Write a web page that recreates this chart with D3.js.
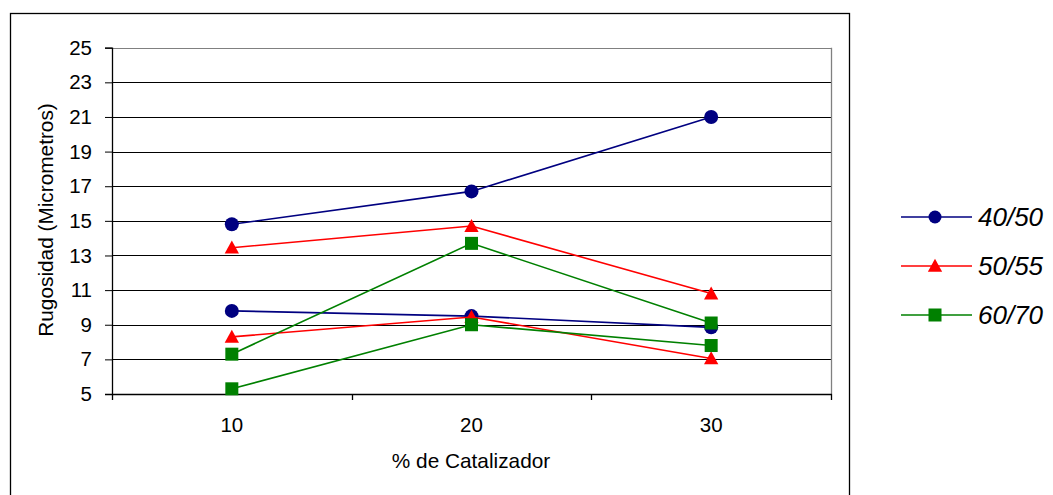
<!DOCTYPE html>
<html>
<head>
<meta charset="utf-8">
<script src="https://cdn.jsdelivr.net/npm/d3@7"></script>
<style>
  html, body { margin: 0; padding: 0; background: #fff; }
  svg { display: block; font-family: "Liberation Sans", Arial, sans-serif; }
</style>
</head>
<body>
<svg id="chart" width="1053" height="495"></svg>
<script>
// Catalyst percentage categories
const categories = [10, 20, 30];
// Y axis ticks
const yTicks = [5, 7, 9, 11, 13, 15, 17, 19, 21, 23, 25];

// Roughness (micrometres) per resin grade, two measured curves each
const s4050High = [14.8, 16.7, 21.0];
const s4050Low  = [9.8, 9.5, 8.85];
const s5055High = [13.45, 14.7, 10.8];
const s5055Low  = [8.3, 9.45, 7.05];
const s6070High = [7.3, 13.7, 9.1];
const s6070Low  = [5.3, 9.0, 7.8];

const legendLabels = ["40/50", "50/55", "60/70"];

const groups = [
  { name: legendLabels[0], color: "#000080", shape: "circle",   lines: [s4050High, s4050Low] },
  { name: legendLabels[1], color: "#FF0000", shape: "triangle", lines: [s5055High, s5055Low] },
  { name: legendLabels[2], color: "#008000", shape: "square",   lines: [s6070High, s6070Low] }
];

const svg = d3.select("#chart");

const plot = { left: 112, right: 831, top: 47.7, bottom: 394 };

const x = d3.scaleBand().domain(categories).range([plot.left, plot.right]);
const y = d3.scaleLinear().domain([5, 25]).range([plot.bottom, plot.top]);

// Outer chart frame
svg.append("rect")
  .attr("x", 10.5).attr("y", 13.5)
  .attr("width", 839).attr("height", 490)
  .attr("fill", "none").attr("stroke", "#000").attr("stroke-width", 1.3);

// Horizontal gridlines
svg.append("g")
  .selectAll("line")
  .data(yTicks.filter(t => t !== 5))
  .join("line")
  .attr("x1", plot.left).attr("x2", plot.right)
  .attr("y1", d => Math.round(y(d)) + 0.5).attr("y2", d => Math.round(y(d)) + 0.5)
  .attr("stroke", d => d === 25 ? "#808080" : "#000").attr("stroke-width", 1);

// Plot-area right border
svg.append("line")
  .attr("x1", plot.right + 0.5).attr("x2", plot.right + 0.5)
  .attr("y1", plot.top).attr("y2", plot.bottom)
  .attr("stroke", "#808080").attr("stroke-width", 1.3);

// Y axis
const yAxis = d3.axisLeft(y).tickValues(yTicks).tickSize(7).tickPadding(13);
const yg = svg.append("g")
  .attr("transform", `translate(${plot.left},0)`)
  .call(yAxis);
yg.attr("font-size", null).attr("font-family", null);
yg.select(".domain").attr("stroke", "#000").attr("stroke-width", 1.3);
yg.selectAll(".tick line").attr("stroke", "#000");
yg.selectAll(".tick text")
  .attr("font-size", 20.5).attr("fill", "#000");

// X axis: category axis with ticks at band boundaries
const xb = svg.append("g");
xb.append("line")
  .attr("x1", plot.left).attr("x2", plot.right + 1)
  .attr("y1", plot.bottom + 0.5).attr("y2", plot.bottom + 0.5)
  .attr("stroke", "#000").attr("stroke-width", 1.3);
const boundaries = categories.map(c => x(c)).concat([x(categories[categories.length - 1]) + x.bandwidth()]);
xb.selectAll("line.tk")
  .data(boundaries)
  .join("line")
  .attr("class", "tk")
  .attr("x1", d => Math.round(d) + 0.5).attr("x2", d => Math.round(d) + 0.5)
  .attr("y1", plot.bottom).attr("y2", plot.bottom + 6)
  .attr("stroke", "#000").attr("stroke-width", 1.3);
xb.selectAll("text")
  .data(categories)
  .join("text")
  .attr("x", d => x(d) + x.bandwidth() / 2)
  .attr("y", 431.5)
  .attr("text-anchor", "middle")
  .attr("font-size", 20.5)
  .text(d => d);

// Axis titles
svg.append("text")
  .attr("x", 471).attr("y", 468)
  .attr("text-anchor", "middle")
  .attr("font-size", 20.8)
  .text("% de Catalizador");

svg.append("text")
  .attr("transform", "translate(53,220) rotate(-90)")
  .attr("text-anchor", "middle")
  .attr("font-size", 20.8)
  .text("Rugosidad (Micrometros)");

// Marker drawing helper
function marker(sel, shape, color, size) {
  if (shape === "circle") {
    sel.append("circle").attr("r", size / 2).attr("fill", color);
  } else if (shape === "triangle") {
    const h = size;
    sel.append("path")
      .attr("d", `M0,${-h * 0.55} L${h * 0.55},${h * 0.45} L${-h * 0.55},${h * 0.45} Z`)
      .attr("fill", color);
  } else {
    sel.append("rect")
      .attr("x", -size / 2).attr("y", -size / 2)
      .attr("width", size).attr("height", size)
      .attr("fill", color);
  }
}

const cx = d => x(d) + x.bandwidth() / 2;
const line = d3.line().x((v, i) => cx(categories[i])).y(v => y(v));

// Series lines and markers
groups.forEach(g => {
  g.lines.forEach(vals => {
    const sg = svg.append("g");
    sg.append("path")
      .attr("d", line(vals))
      .attr("fill", "none")
      .attr("stroke", g.color)
      .attr("stroke-width", 1.6);
    vals.forEach((v, i) => {
      const m = sg.append("g").attr("transform", `translate(${cx(categories[i])},${y(v)})`);
      marker(m, g.shape, g.color, g.shape === "circle" ? 14 : 13);
    });
  });
});

// Legend
const legend = svg.append("g");
groups.forEach((g, i) => {
  const ly = 217 + i * 49;
  const row = legend.append("g");
  row.append("line")
    .attr("x1", 901).attr("x2", 972)
    .attr("y1", ly).attr("y2", ly)
    .attr("stroke", g.color).attr("stroke-width", 1.6);
  const m = row.append("g").attr("transform", `translate(935,${ly})`);
  marker(m, g.shape, g.color, 13);
  row.append("text")
    .attr("x", 978).attr("y", ly + 9)
    .attr("font-size", 26)
    .attr("font-style", "italic")
    .text(g.name);
});
</script>
</body>
</html>
